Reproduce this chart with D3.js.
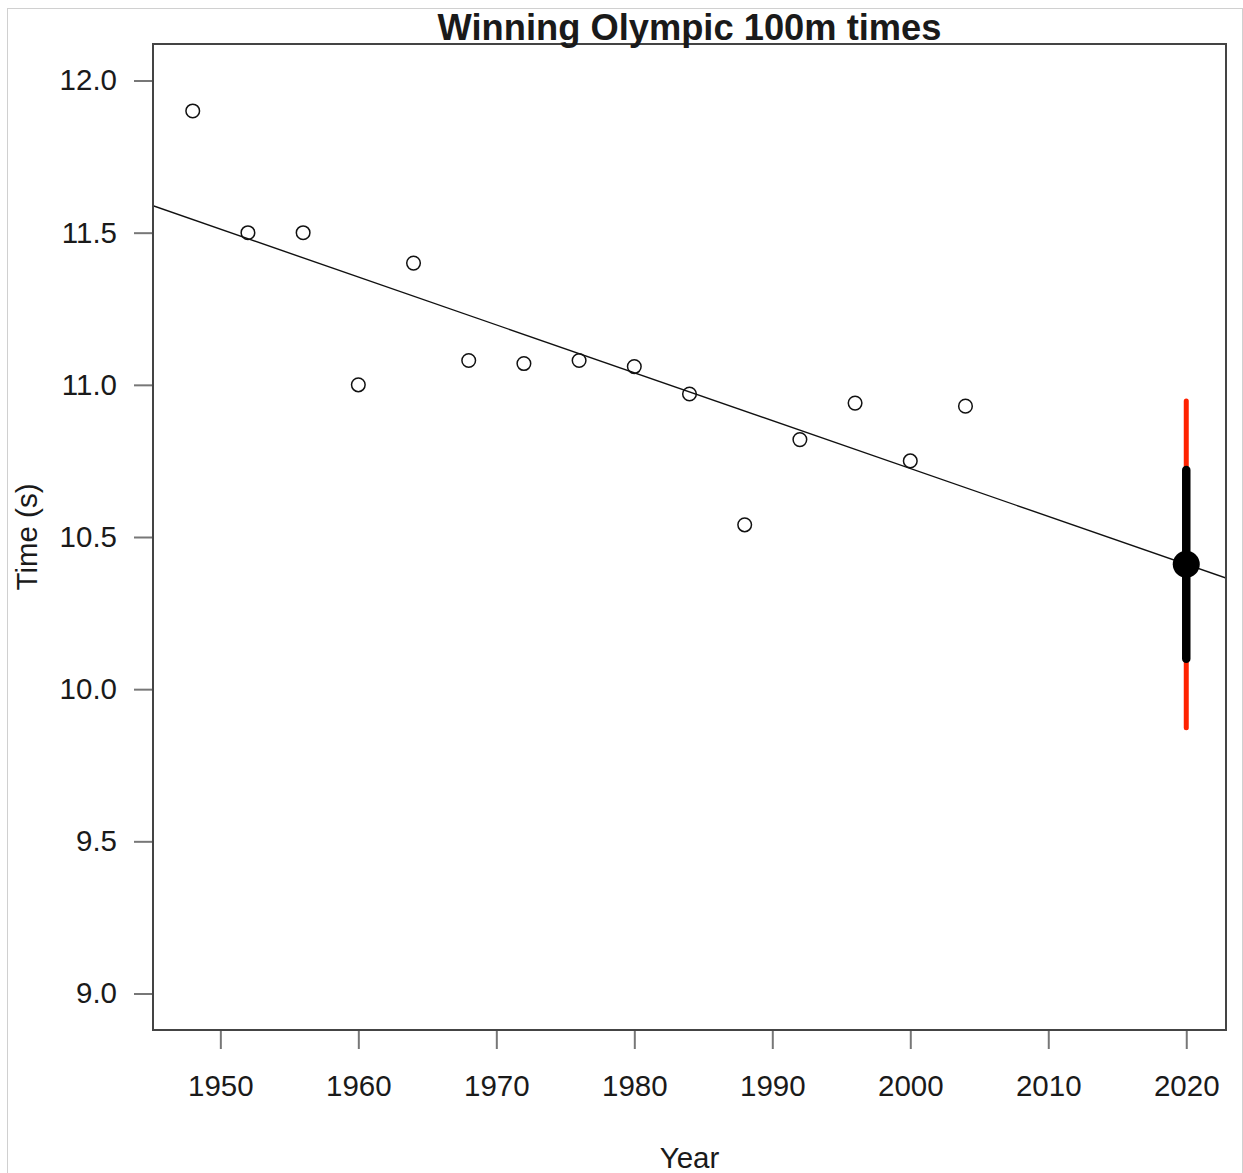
<!DOCTYPE html>
<html>
<head>
<meta charset="utf-8">
<script src="https://cdn.jsdelivr.net/npm/d3@7"></script>
<style>
  body { margin: 0; background: #fff; }
  text { font-family: "Liberation Sans", Arial, sans-serif; fill: #1a1a1a; }
</style>
</head>
<body>
<svg id="chart" width="1243" height="1173"></svg>
<script>
// winning times, women's 100m
const years = [1948, 1952, 1956, 1960, 1964, 1968, 1972, 1976, 1980, 1984, 1988, 1992, 1996, 2000, 2004]
const times = [11.9, 11.5, 11.5, 11.0, 11.4, 11.08, 11.07, 11.08, 11.06, 10.97, 10.54, 10.82, 10.94, 10.75, 10.93]
const xTicks = [1950, 1960, 1970, 1980, 1990, 2000, 2010, 2020]
const yTicks = [9.0, 9.5, 10.0, 10.5, 11.0, 11.5, 12.0]
const xLim = [1948, 2020]
const yLim = [9, 12]
const predYear = 2020
const innerBand = [10.09, 10.73]
const outerBand = [9.87, 10.95]

const svg = d3.select('#chart')
const pLeft = 153, pRight = 1226, pTop = 44, pBottom = 1030

// R style 4% padding
function pad(lim) {
    const d = (lim[1] - lim[0]) * 0.04
    return [lim[0] - d, lim[1] + d]
}

const x = d3.scaleLinear().domain(pad(xLim)).range([pLeft, pRight])
const y = d3.scaleLinear().domain(pad(yLim)).range([pBottom, pTop])

// least squares fit
const mx = d3.mean(years), my = d3.mean(times)
const slope = d3.sum(years, (d, i) => (d - mx) * (times[i] - my)) / d3.sum(years, d => (d - mx) * (d - mx))
const icpt = my - slope * mx
const fit = t => icpt + slope * t

// outer light frame
svg.append('rect')
    .attr('x', 7.5).attr('y', 8.5)
    .attr('width', 1235).attr('height', 1200)
    .attr('fill', 'none').attr('stroke', '#d0d0d0').attr('stroke-width', 1)

svg.append('clipPath').attr('id', 'clip')
    .append('rect').attr('x', pLeft).attr('y', pTop)
    .attr('width', pRight - pLeft).attr('height', pBottom - pTop)

// regression line
const xd = x.domain()
svg.append('line')
    .attr('clip-path', 'url(#clip)')
    .attr('x1', x(xd[0])).attr('y1', y(fit(xd[0])))
    .attr('x2', x(xd[1])).attr('y2', y(fit(xd[1])))
    .attr('stroke', '#111').attr('stroke-width', 1.4)

// observed points
svg.append('g').selectAll('circle')
    .data(years)
    .enter().append('circle')
    .attr('cx', d => x(d))
    .attr('cy', (d, i) => y(times[i]))
    .attr('r', 6.8)
    .attr('fill', 'none')
    .attr('stroke', '#111')
    .attr('stroke-width', 1.5)

// prediction intervals
svg.append('line')
    .attr('x1', x(predYear)).attr('x2', x(predYear))
    .attr('y1', y(outerBand[0]) - 1).attr('y2', y(outerBand[1]) + 1)
    .attr('stroke', '#ff2200').attr('stroke-width', 5).attr('stroke-linecap', 'round')
svg.append('line')
    .attr('x1', x(predYear)).attr('x2', x(predYear))
    .attr('y1', y(innerBand[0]) - 3).attr('y2', y(innerBand[1]) + 3)
    .attr('stroke', '#000').attr('stroke-width', 8.5).attr('stroke-linecap', 'round')
svg.append('circle')
    .attr('cx', x(predYear)).attr('cy', y(fit(predYear)))
    .attr('r', 13.5).attr('fill', '#000')

// axes
const xAxis = svg.append('g')
    .attr('transform', 'translate(0,' + pBottom + ')')
    .call(d3.axisBottom(x).tickValues(xTicks).tickFormat(d3.format('d')).tickSize(19).tickPadding(26))
const yAxis = svg.append('g')
    .attr('transform', 'translate(' + pLeft + ',0)')
    .call(d3.axisLeft(y).tickValues(yTicks).tickFormat(d3.format('.1f')).tickSize(19).tickPadding(17))

;[xAxis, yAxis].forEach(g => {
    g.select('.domain').remove()
    g.selectAll('line').attr('stroke', '#777').attr('stroke-width', 2)
    g.selectAll('text').attr('font-size', 29.5).attr('fill', '#1a1a1a')
        .style('font-family', '"Liberation Sans", Arial, sans-serif')
})

// plot box
svg.append('rect')
    .attr('x', pLeft).attr('y', pTop)
    .attr('width', pRight - pLeft).attr('height', pBottom - pTop)
    .attr('fill', 'none').attr('stroke', '#444').attr('stroke-width', 2)

// titles
svg.append('text')
    .attr('x', (pLeft + pRight) / 2).attr('y', 40)
    .attr('text-anchor', 'middle')
    .attr('font-size', 36.3).attr('font-weight', 'bold')
    .attr('fill', '#000')
    .text('Winning Olympic 100m times')

svg.append('text')
    .attr('x', (pLeft + pRight) / 2).attr('y', 1168)
    .attr('text-anchor', 'middle')
    .attr('font-size', 29.5)
    .text('Year')

svg.append('text')
    .attr('transform', 'translate(37,' + (pTop + pBottom) / 2 + ') rotate(-90)')
    .attr('text-anchor', 'middle')
    .attr('font-size', 29.5)
    .text('Time (s)')
</script>
</body>
</html>
